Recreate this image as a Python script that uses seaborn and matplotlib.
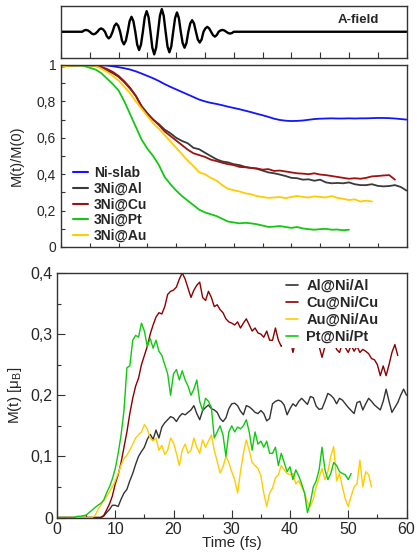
import numpy as np
import pandas as pd
import matplotlib
matplotlib.use("Agg")
import matplotlib.pyplot as plt
import seaborn as sns
from matplotlib.ticker import MultipleLocator, FuncFormatter, NullFormatter

# ---------------- data ----------------
# laser vector potential: samples over each half cycle (arb. units)
afield_t0 = 3.69          # first zero crossing (fs)
afield_dt = 0.329         # sampling step (fs)
afield_vals = [0.0,
    0.05, 0.07, 0.05, 0.0,   -0.07, -0.10, -0.07, 0.0,
    0.09, 0.13, 0.09, 0.0,   -0.18, -0.26, -0.18, 0.0,
    0.23, 0.32, 0.23, 0.0,   -0.35, -0.49, -0.35, 0.0,
    0.41, 0.58, 0.41, 0.0,   -0.50, -0.71, -0.50, 0.0,
    0.57, 0.80, 0.57, 0.0,   -0.62, -0.88, -0.62, 0.0,
    0.62, 0.88, 0.62, 0.0,   -0.57, -0.80, -0.57, 0.0,
    0.53, 0.75, 0.53, 0.0,   -0.44, -0.62, -0.44, 0.0,
    0.32, 0.45, 0.32, 0.0,   -0.30, -0.42, -0.30, 0.0,
    0.13, 0.19, 0.13, 0.0,   -0.13, -0.19, -0.13, 0.0,
    0.05, 0.07, 0.05, 0.0,   -0.05, -0.07, -0.05, 0.0]

# normalised moment M(t)/M(0), sampled every 1 fs
mid_names = ["Ni-slab", "3Ni@Al", "3Ni@Cu", "3Ni@Pt", "3Ni@Au"]
mid_colors = ["#1414ff", "#3a3a3a", "#a01212", "#12c812", "#ffcc00"]
ni_slab = [1.0, 1.0, 1.0, 1.0, 1.0, 1.0, 0.999, 0.999,
    0.997, 0.993, 0.988, 0.982, 0.975, 0.965, 0.953, 0.94, 0.927, 0.912,
    0.895, 0.88, 0.866, 0.852, 0.838, 0.824, 0.81, 0.80, 0.792, 0.786,
    0.779, 0.771, 0.764, 0.757, 0.749, 0.741, 0.732, 0.724, 0.715, 0.705,
    0.698, 0.694, 0.692, 0.693, 0.695, 0.699, 0.703, 0.705, 0.706, 0.707,
    0.706, 0.706, 0.707, 0.706, 0.707, 0.707, 0.708, 0.709, 0.709, 0.708,
    0.706, 0.703, 0.700]
ni_al = [0.99, 0.995, 0.997, 0.998, 0.999, 0.998, 0.995, 0.985, 0.97, 0.955,
    0.935, 0.905, 0.87, 0.83, 0.775, 0.735, 0.70, 0.675, 0.645, 0.625,
    0.60, 0.583, 0.57, 0.545, 0.537, 0.518, 0.50, 0.482, 0.47, 0.465,
    0.455, 0.45, 0.44, 0.435, 0.43, 0.42, 0.41, 0.405, 0.398, 0.39,
    0.38, 0.378, 0.37, 0.372, 0.364, 0.37, 0.355, 0.35, 0.352, 0.35,
    0.355, 0.345, 0.34, 0.34, 0.345, 0.336, 0.333, 0.335, 0.34, 0.33, 0.31]
ni_cu = [0.99, 0.995, 0.997, 0.998, 0.999, 1.0, 0.998, 0.99, 0.978, 0.962,
    0.94, 0.91, 0.875, 0.83, 0.77, 0.73, 0.70, 0.67, 0.635, 0.61,
    0.585, 0.56, 0.535, 0.515, 0.505, 0.495, 0.48, 0.472, 0.463, 0.455,
    0.45, 0.44, 0.438, 0.434, 0.432, 0.425, 0.428, 0.418, 0.42, 0.415,
    0.41, 0.405, 0.403, 0.40, 0.405, 0.398, 0.395, 0.39, 0.385, 0.38,
    0.375, 0.378, 0.375, 0.38, 0.388, 0.39, 0.393, 0.395, 0.37]
ni_pt = [0.995, 0.997, 0.998, 0.998, 0.995, 0.985, 0.975, 0.955, 0.925, 0.895,
    0.86, 0.80, 0.73, 0.66, 0.59, 0.54, 0.50, 0.45, 0.385, 0.345,
    0.31, 0.28, 0.255, 0.23, 0.205, 0.19, 0.18, 0.17, 0.155, 0.14,
    0.135, 0.13, 0.133, 0.13, 0.125, 0.118, 0.11, 0.112, 0.115, 0.11,
    0.105, 0.11, 0.102, 0.098, 0.095, 0.098, 0.10, 0.095, 0.096, 0.092, 0.095]
ni_au = [0.99, 0.995, 0.997, 0.998, 0.999, 0.998, 0.995, 0.98, 0.962, 0.94,
    0.915, 0.88, 0.845, 0.80, 0.76, 0.72, 0.68, 0.65, 0.615, 0.58,
    0.545, 0.51, 0.475, 0.445, 0.41, 0.40, 0.38, 0.365, 0.34, 0.32,
    0.312, 0.305, 0.295, 0.29, 0.28, 0.275, 0.27, 0.272, 0.275, 0.268,
    0.275, 0.28, 0.275, 0.272, 0.278, 0.275, 0.272, 0.28, 0.27, 0.265,
    0.258, 0.262, 0.25, 0.255, 0.25]
mid_series = [ni_slab, ni_al, ni_cu, ni_pt, ni_au]

# induced moment on the cap layer (mu_B), sampled every 0.5 fs
bot_names = ["Al@Ni/Al", "Cu@Ni/Cu", "Au@Ni/Au", "Pt@Ni/Pt"]
bot_colors = ["#333333", "#8b0000", "#ffcc00", "#10c810"]
al_cap = [0.0] * 16 + [
    0.002, 0.008, 0.013, 0.02, 0.02, 0.018, 0.03, 0.04,
    0.046, 0.06, 0.072, 0.087, 0.1, 0.108, 0.115, 0.128,
    0.136, 0.128, 0.143, 0.13, 0.148, 0.155, 0.16, 0.165,
    0.163, 0.157, 0.165, 0.17, 0.168, 0.172, 0.176, 0.183,
    0.17, 0.16, 0.175, 0.18, 0.184, 0.178, 0.176, 0.172,
    0.162, 0.157, 0.163, 0.178, 0.186, 0.187, 0.183, 0.174,
    0.168, 0.183, 0.181, 0.177, 0.172, 0.17, 0.175, 0.17,
    0.158, 0.162, 0.186, 0.19, 0.192, 0.19, 0.184, 0.168,
    0.178, 0.186, 0.182, 0.19, 0.195, 0.19, 0.185, 0.198,
    0.196, 0.182, 0.177, 0.178, 0.19, 0.203, 0.2, 0.195,
    0.186, 0.195, 0.192, 0.186, 0.18, 0.175, 0.17, 0.188,
    0.19, 0.176, 0.186, 0.195, 0.19, 0.184, 0.18, 0.176,
    0.19, 0.21, 0.19, 0.172, 0.18, 0.188, 0.2, 0.21,
    0.2]
cu_cap = [0.0] * 16 + [
    0.003, 0.012, 0.022, 0.035, 0.055, 0.07, 0.09, 0.115,
    0.14, 0.17, 0.195, 0.215, 0.228, 0.25, 0.265, 0.28,
    0.30, 0.315, 0.328, 0.335, 0.333, 0.345, 0.365, 0.37,
    0.372, 0.377, 0.39, 0.40, 0.39, 0.375, 0.36, 0.372,
    0.38, 0.385, 0.36, 0.355, 0.37, 0.36, 0.345, 0.348,
    0.34, 0.335, 0.325, 0.32, 0.318, 0.315, 0.32, 0.31,
    0.318, 0.325, 0.315, 0.305, 0.31, 0.302, 0.30, 0.295,
    0.305, 0.29, 0.29, 0.31, 0.29, 0.28, 0.285, 0.29,
    0.295, 0.27, 0.29, 0.30, 0.295, 0.29, 0.285, 0.295,
    0.30, 0.29, 0.28, 0.262, 0.28, 0.29, 0.295, 0.29,
    0.275, 0.27, 0.285, 0.278, 0.27, 0.282, 0.272, 0.28,
    0.27, 0.275, 0.272, 0.268, 0.26, 0.258, 0.25, 0.232,
    0.248, 0.232, 0.25, 0.27, 0.283, 0.265]
au_cap = [0.0] * 13 + [
    0.003, 0.012, 0.02,
    0.028, 0.034, 0.042, 0.05, 0.06, 0.072, 0.086, 0.096,
    0.102, 0.11, 0.12, 0.13, 0.135, 0.14, 0.152, 0.145,
    0.13, 0.125, 0.13, 0.11, 0.118, 0.103, 0.11, 0.13,
    0.122, 0.105, 0.085, 0.11, 0.12, 0.105, 0.11, 0.13,
    0.115, 0.105, 0.127, 0.115, 0.125, 0.135, 0.11, 0.092,
    0.073, 0.083, 0.10, 0.09, 0.075, 0.062, 0.04, 0.075,
    0.105, 0.127, 0.11, 0.09, 0.085, 0.08, 0.068, 0.04,
    0.018, 0.04, 0.048, 0.065, 0.07, 0.085, 0.078, 0.072,
    0.07, 0.072, 0.055, 0.06, 0.05, 0.04, 0.025, 0.018,
    0.03, 0.05, 0.065, 0.08, 0.062, 0.075, 0.10, 0.116,
    0.06, 0.072, 0.05, 0.03, 0.018, 0.035, 0.05, 0.055,
    0.094, 0.05, 0.075, 0.07, 0.05]
pt_cap = [0.0] * 7 + [
    0.002, 0.002, 0.003, 0.004, 0.008, 0.012, 0.016, 0.02, 0.023,
    0.028, 0.04, 0.05, 0.063, 0.08, 0.105, 0.135, 0.175,
    0.245, 0.248, 0.29, 0.298, 0.295, 0.318, 0.305, 0.28,
    0.293, 0.277, 0.29, 0.272, 0.265, 0.25, 0.235, 0.20,
    0.235, 0.242, 0.225, 0.24, 0.225, 0.215, 0.20, 0.21,
    0.225, 0.19, 0.175, 0.195, 0.19, 0.18, 0.13, 0.14,
    0.15, 0.135, 0.10, 0.14, 0.15, 0.14, 0.148, 0.145,
    0.15, 0.16, 0.14, 0.11, 0.14, 0.12, 0.125, 0.115,
    0.125, 0.105, 0.105, 0.115, 0.085, 0.105, 0.09, 0.075,
    0.083, 0.062, 0.078, 0.068, 0.055, 0.04, 0.008, 0.025,
    0.05, 0.06, 0.078, 0.115, 0.078, 0.062, 0.072, 0.09,
    0.085, 0.075, 0.072, 0.07, 0.062, 0.072]
bot_series = [al_cap, cu_cap, au_cap, pt_cap]

# ---------------- tables ----------------
n_osc = len(afield_vals)
afield = pd.DataFrame({
    "t": np.concatenate([[0.0], afield_t0 + afield_dt * np.arange(n_osc), [60.0]]),
    "A": [0.0] + afield_vals + [0.0]})

mid = pd.concat([pd.DataFrame({"t": np.arange(len(v)) * 1.0, "m": v, "series": n})
                 for n, v in zip(mid_names, mid_series)], ignore_index=True)
bot = pd.concat([pd.DataFrame({"t": np.arange(len(v)) * 0.5, "m": v, "series": n})
                 for n, v in zip(bot_names, bot_series)], ignore_index=True)

# ---------------- style ----------------
sns.set_style("ticks")
plt.rcParams["font.family"] = ["Liberation Sans Narrow", "Liberation Sans", "DejaVu Sans"]
plt.rcParams["mathtext.fontset"] = "custom"
plt.rcParams["mathtext.rm"] = "Liberation Sans Narrow"
plt.rcParams["mathtext.it"] = "Liberation Sans Narrow"
plt.rcParams["axes.edgecolor"] = "#333333"
plt.rcParams["axes.linewidth"] = 1.0
BOLD_FAMILY = ["Liberation Sans", "DejaVu Sans"]

W, H = 417, 554
fig = plt.figure(figsize=(W / 100, H / 100), dpi=100)
ax_a = fig.add_axes([61 / W, 1 - 57.5 / H, 345.5 / W, 51.5 / H])
ax_m = fig.add_axes([61 / W, 1 - 247 / H, 345.5 / W, 182 / H])
ax_b = fig.add_axes([57 / W, 1 - 517.5 / H, 349.5 / W, 244.5 / H])


def comma(v, pos):
    if abs(v) < 1e-9:
        return "0"
    if abs(v - 1) < 1e-9:
        return "1"
    return f"{v:.1f}".replace(".", ",")


# A-field
sns.lineplot(data=afield, x="t", y="A", ax=ax_a, color="black", lw=1.7,
             estimator=None, legend=False)
ax_a.set_xlim(0, 60)
ax_a.set_ylim(-1, 1)
ax_a.set_xlabel("")
ax_a.set_ylabel("")
ax_a.xaxis.set_major_locator(MultipleLocator(5))
ax_a.xaxis.set_major_formatter(NullFormatter())
ax_a.set_yticks([])
ax_a.tick_params(axis="x", direction="in", length=4, width=0.8, color="#333333")
ax_a.text(0.92, 0.728, "A-field", transform=ax_a.transAxes, ha="right", va="center",
          fontsize=9.5, fontweight="bold", family=BOLD_FAMILY)

# normalised magnetisation
sns.lineplot(data=mid, x="t", y="m", hue="series", hue_order=mid_names,
             palette=dict(zip(mid_names, mid_colors)), ax=ax_m, lw=1.3,
             estimator=None, legend=False)
ax_m.set_xlim(0, 60)
ax_m.set_ylim(0, 1)
ax_m.set_xlabel("")
ax_m.set_ylabel("M(t)/M(0)", fontsize=10.5)
ax_m.yaxis.set_label_coords(-0.107, 0.5)
ax_m.xaxis.set_major_locator(MultipleLocator(5))
ax_m.xaxis.set_major_formatter(NullFormatter())
ax_m.yaxis.set_major_locator(MultipleLocator(0.2))
ax_m.yaxis.set_minor_locator(MultipleLocator(0.1))
ax_m.yaxis.set_major_formatter(FuncFormatter(comma))
ax_m.tick_params(which="both", direction="in", length=3, width=0.8, color="#333333",
                 labelsize=10, pad=3.5)
leg = ax_m.legend(ax_m.get_lines(), mid_names, loc="lower left",
                  bbox_to_anchor=(0.023, 0.0), frameon=False, handlelength=1.08,
                  handletextpad=0.43, labelspacing=0.12, borderaxespad=0.0,
                  borderpad=0.3,
                  prop={"weight": "bold", "size": 10, "family": BOLD_FAMILY})
for h in leg.get_lines():
    h.set_linewidth(1.5)

# cap-layer moments
sns.lineplot(data=bot, x="t", y="m", hue="series", hue_order=bot_names,
             palette=dict(zip(bot_names, bot_colors)), ax=ax_b, lw=1.0,
             estimator=None, legend=False)
ax_b.set_xlim(0, 60)
ax_b.set_ylim(0, 0.4)
ax_b.set_xlabel("Time (fs)", fontsize=11)
ax_b.xaxis.set_label_coords(0.5, -0.0757)
ax_b.set_ylabel(r"M(t) [$\mathregular{\mu_B}$]", fontsize=11)
ax_b.yaxis.set_label_coords(-0.094, 0.5)
ax_b.xaxis.set_major_locator(MultipleLocator(10))
ax_b.xaxis.set_minor_locator(MultipleLocator(5))
ax_b.yaxis.set_major_locator(MultipleLocator(0.1))
ax_b.yaxis.set_minor_locator(MultipleLocator(0.05))
ax_b.yaxis.set_major_formatter(FuncFormatter(comma))
ax_b.tick_params(which="major", direction="in", length=6, width=0.8, color="#333333",
                 labelsize=11.5, pad=3)
ax_b.tick_params(which="minor", direction="in", length=3, width=0.8, color="#333333")
leg2 = ax_b.legend(ax_b.get_lines(), bot_names, loc="upper left",
                   bbox_to_anchor=(0.644, 0.993),
                   frameon=True, facecolor="white", edgecolor="none", framealpha=1.0,
                   fancybox=False, handlelength=0.82, handletextpad=0.55,
                   labelspacing=0.2, borderaxespad=0.0, borderpad=0.3,
                   prop={"weight": "bold", "size": 10.5, "family": BOLD_FAMILY})
for h in leg2.get_lines():
    h.set_linewidth(1.2)

fig.savefig("out.png", dpi=100)
